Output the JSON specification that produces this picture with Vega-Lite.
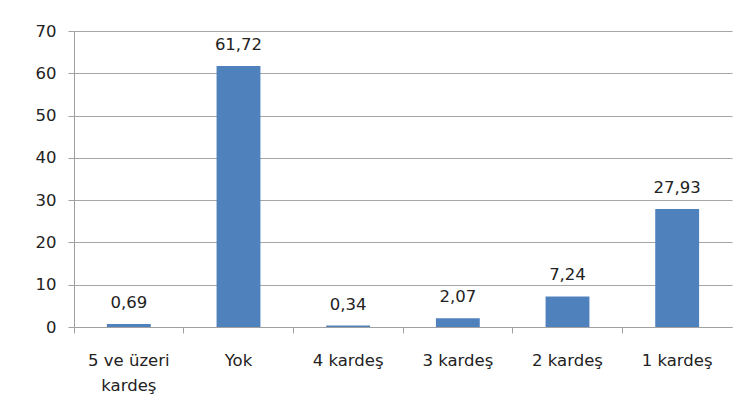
{
  "$schema": "https://vega.github.io/schema/vega-lite/v6.json",
  "autosize": "none",
  "width": 658,
  "height": 296,
  "padding": {"left": 74, "top": 31, "right": 9, "bottom": 90},
  "background": "white",
  "config": {
    "locale": {"number": {"decimal": ",", "thousands": ".", "grouping": [3], "currency": ["", ""]}},
    "view": {"stroke": null},
    "font": "DejaVu Sans"
  },
  "data": {
    "values": [
      {"kategori": "5 ve üzeri kardeş", "yuzde": 0.69},
      {"kategori": "Yok", "yuzde": 61.72},
      {"kategori": "4 kardeş", "yuzde": 0.34},
      {"kategori": "3 kardeş", "yuzde": 2.07},
      {"kategori": "2 kardeş", "yuzde": 7.24},
      {"kategori": "1 kardeş", "yuzde": 27.93}
    ]
  },
  "encoding": {
    "x": {
      "field": "kategori",
      "type": "nominal",
      "sort": null,
      "scale": {"paddingInner": 0, "paddingOuter": 0},
      "axis": {
        "title": null,
        "labelAngle": 0,
        "bandPosition": 0,
        "labelExpr": "datum.value == '5 ve üzeri kardeş' ? ['5 ve üzeri', 'kardeş'] : datum.value",
        "labelFont": "DejaVu Sans",
        "labelFontSize": 16.5,
        "labelColor": "#222222",
        "labelLineHeight": 25,
        "labelPadding": 19,
        "tickSize": 6,
        "tickColor": "#a0a0a0",
        "domainColor": "#a0a0a0",
        "labelOffset": 0,
        "grid": false
      }
    },
    "y": {
      "field": "yuzde",
      "type": "quantitative",
      "scale": {"domain": [0, 70], "nice": false},
      "axis": {
        "title": null,
        "values": [0, 10, 20, 30, 40, 50, 60, 70],
        "labelFont": "DejaVu Sans",
        "labelFontSize": 16.5,
        "labelColor": "#222222",
        "labelPadding": 12,
        "tickSize": 6,
        "tickColor": "#a0a0a0",
        "domainColor": "#a0a0a0",
        "grid": true,
        "gridColor": "#a6a6a6",
        "gridWidth": 1
      }
    }
  },
  "layer": [
    {
      "mark": {"type": "bar", "color": "#4f81bd", "width": {"band": 0.4}}
    },
    {
      "mark": {"type": "text", "font": "DejaVu Sans", "fontSize": 16.5, "color": "#222222", "baseline": "alphabetic", "dy": -16},
      "encoding": {
        "text": {"field": "yuzde", "type": "quantitative", "format": ".2f"}
      }
    }
  ]
}
